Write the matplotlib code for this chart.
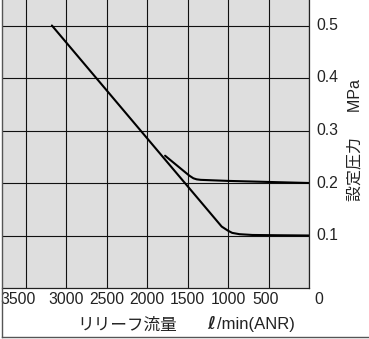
import matplotlib
matplotlib.use("Agg")
import matplotlib.pyplot as plt
from matplotlib.lines import Line2D
from matplotlib.transforms import offset_copy

# Relief flow characteristics (flow in l/min ANR, set pressure in MPa)
flow_05 = [3180, 1080, 1000, 950, 860, 700, 400, 0]
pres_05 = [0.500, 0.117, 0.109, 0.105, 0.1025, 0.101, 0.1005, 0.100]

flow_02 = [1780, 1480, 1430, 1390, 1340, 1000, 500, 0]
pres_02 = [0.252, 0.214, 0.209, 0.207, 0.206, 0.204, 0.202, 0.200]

x_ticks = [3500, 3000, 2500, 2000, 1500, 1000, 500, 0]
x_tick_labels = ["3500", "3000", "2500", "2000", "1500", "1000", "500", "0"]
y_ticks = [0.1, 0.2, 0.3, 0.4, 0.5]
y_tick_labels = ["0.1", "0.2", "0.3", "0.4", "0.5"]

W, H = 369, 339
fig = plt.figure(figsize=(W / 100, H / 100), dpi=100)
fig.patch.set_facecolor("white")

# axes: left edge at 2px, right edge at 309px, bottom at 288px, top slightly above the figure
ax = fig.add_axes([2 / W, (H - 288) / H, 307 / W, 296 / H])
ax.set_facecolor("#dedede")
ax.set_xlim(3797, 0)
ax.set_ylim(0, 296 / 525)

ax.set_xticks(x_ticks)
ax.set_yticks(y_ticks)
ax.set_xticklabels([])
ax.set_yticklabels([])
ax.tick_params(length=0)
ax.grid(True, color="#111111", linewidth=0.8)
ax.set_axisbelow(True)

for s in ("top", "left"):
    ax.spines[s].set_visible(False)
for s in ("right", "bottom"):
    ax.spines[s].set_color("#222222")
    ax.spines[s].set_linewidth(0.9)

ax.plot(flow_05, pres_05, color="black", linewidth=1.5, solid_capstyle="round")
ax.plot(flow_02, pres_02, color="black", linewidth=1.5, solid_capstyle="round")

tick_font = dict(family="Liberation Sans", fontsize=11.3, color="#222222")

# x tick labels below the axes
xtr = ax.get_xaxis_transform()
for xv, lab in zip(x_ticks, x_tick_labels):
    dx = 0
    ha = "center"
    if lab == "3500":
        dx = -8
    elif lab == "0":
        dx = 10
    elif lab == "500":
        dx = -3
    tr = offset_copy(xtr, fig=fig, x=dx * 0.72, y=-11 * 0.72, units="points")
    ax.text(xv, 0, lab, transform=tr, ha=ha, va="center", **tick_font)

# y tick labels to the right of the axes
ytr = ax.get_yaxis_transform()
for yv, lab in zip(y_ticks, y_tick_labels):
    tr = offset_copy(ytr, fig=fig, x=7 * 0.72, y=0, units="points")
    ax.text(1, yv, lab, transform=tr, ha="left", va="center", **tick_font)

label_fam = ["Liberation Sans", "Noto Sans CJK JP"]
fig.text(77 / W, 1 - 325 / H, "リリーフ流量", family=label_fam, fontsize=12,
         ha="left", va="center", color="#222222")
fig.text(211 / W, 1 - 324 / H, "ℓ", family="DejaVu Sans", fontsize=12,
         fontweight="bold", fontstyle="italic", ha="center", va="center",
         color="#222222")
fig.text(217 / W, 1 - 324 / H, "/min(ANR)", family=label_fam, fontsize=12,
         ha="left", va="center", color="#222222")

fig.text(355 / W, 1 - 140 / H, "設定圧力　  MPa", family=label_fam, fontsize=11.5,
         rotation=90, ha="center", va="center", color="#222222")

# outer frame: left and bottom rules
fig.add_artist(Line2D([1.5 / W, 1.5 / W], [1 - 337 / H, 1], color="#555555",
                      linewidth=1.0, transform=fig.transFigure))
fig.add_artist(Line2D([1.5 / W, 1], [1 - 337 / H, 1 - 337 / H], color="#555555",
                      linewidth=1.0, transform=fig.transFigure))

fig.savefig("out.png", dpi=100)
